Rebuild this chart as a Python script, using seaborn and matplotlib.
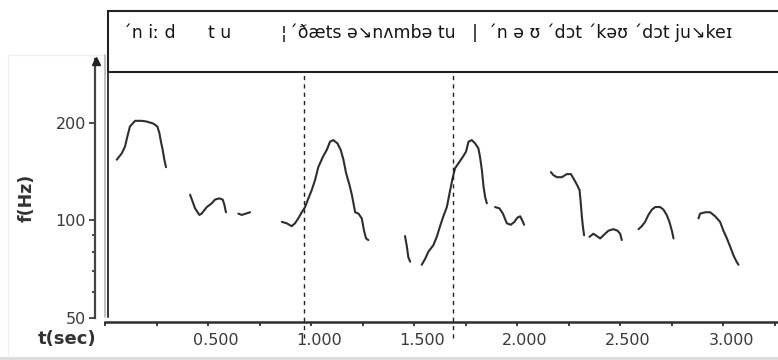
import matplotlib
matplotlib.use("Agg")
import matplotlib.pyplot as plt
import matplotlib.transforms as mtransforms
from matplotlib.lines import Line2D
from matplotlib.patches import Rectangle
from matplotlib.ticker import FixedLocator, NullFormatter
import numpy as np
import pandas as pd
import seaborn as sns

# ---- pitch contour (time in s, F0 in Hz), one array pair per voiced stretch ----
seg1_t = [0.057, 0.081, 0.097, 0.108, 0.121, 0.146, 0.178, 0.202, 0.235, 0.254, 0.264, 0.270, 0.280, 0.288, 0.296]
seg1_hz = [154, 161, 169, 181, 195, 203, 203, 202, 199, 195, 186, 177, 165, 154, 146]

seg2_t = [0.413, 0.426, 0.437, 0.458, 0.469, 0.494, 0.518, 0.534, 0.555, 0.571, 0.579, 0.587]
seg2_hz = [120, 114, 109, 104, 105, 110, 113, 116, 117, 116, 112, 106]

seg3_t = [0.647, 0.664, 0.684, 0.704]
seg3_hz = [105, 104, 105, 106]

seg4_t = [0.858, 0.882, 0.906, 0.922, 0.938, 0.955, 0.971, 0.987, 1.003, 1.019, 1.035, 1.057, 1.076, 1.092,
          1.108, 1.128, 1.144, 1.157, 1.170, 1.186, 1.198, 1.214, 1.230, 1.246, 1.257, 1.267, 1.278]
seg4_hz = [99, 98, 96, 98, 101.5, 106, 110, 117, 124, 133, 146, 157, 165, 175,
           177, 173, 165, 154, 140, 129, 120, 106, 105, 101.5, 93, 88, 87]

seg5_t = [1.456, 1.465, 1.472, 1.481]
seg5_hz = [89.5, 83, 77, 74.6]

seg6_t = [1.537, 1.553, 1.569, 1.594, 1.610, 1.626, 1.642, 1.659, 1.675, 1.688, 1.699, 1.715, 1.736, 1.752,
          1.764, 1.780, 1.796, 1.812, 1.820, 1.829, 1.837, 1.845, 1.853]
seg6_hz = [73, 76, 80, 84, 89, 96, 103, 110, 124, 136, 145, 150, 157, 163,
           175, 177, 173, 167, 157, 143, 127, 118, 113]

seg7_t = [1.893, 1.914, 1.931, 1.950, 1.969, 1.987, 2.001, 2.015, 2.028, 2.034]
seg7_hz = [110, 109, 105, 98, 97, 99, 102, 103, 99, 97]

seg8_t = [2.164, 2.176, 2.193, 2.217, 2.241, 2.261, 2.273, 2.290, 2.303, 2.309, 2.314, 2.319, 2.325]
seg8_hz = [141, 138, 136, 136, 139, 139, 135, 129, 124, 113, 103, 96, 90]

seg9_t = [2.351, 2.370, 2.387, 2.403, 2.419, 2.443, 2.467, 2.487, 2.500, 2.508]
seg9_hz = [89, 91, 89.5, 88, 90, 93, 94, 93, 91, 87]

seg10_t = [2.589, 2.605, 2.621, 2.637, 2.654, 2.670, 2.694, 2.710, 2.726, 2.739, 2.751, 2.759]
seg10_hz = [94, 96, 99, 104, 108, 110, 110, 108, 104, 99, 93, 88]

seg11_t = [2.880, 2.888, 2.913, 2.937, 2.961, 2.985, 3.001, 3.018, 3.034, 3.050, 3.063, 3.074]
seg11_hz = [101.5, 105, 106, 106, 103, 99, 93, 88, 83, 78, 75, 73]

# intonation-phrase boundaries (s)
boundaries = [0.967, 1.688]

# axis ticks
x_ticks = [0.25 * i for i in range(14)]
x_tick_labels = ["", "", "0.500", "", "1.000", "", "1.500", "", "2.000", "", "2.500", "", "3.000", ""]
y_ticks = [50, 100, 200]
y_tick_labels = ["50", "100", "200"]
y_minor_ticks = [60, 70, 80, 90]

# transcription tier
tier_texts = ["´n iː d", "t u", "¦", "´ðæts ə↘nʌmbə tu", "|", "´n ə ʊ ´dɔt ´kəʊ ´dɔt ju↘keɪ"]

segments = [(seg1_t, seg1_hz), (seg2_t, seg2_hz), (seg3_t, seg3_hz), (seg4_t, seg4_hz),
            (seg5_t, seg5_hz), (seg6_t, seg6_hz), (seg7_t, seg7_hz), (seg8_t, seg8_hz),
            (seg9_t, seg9_hz), (seg10_t, seg10_hz), (seg11_t, seg11_hz)]
df = pd.concat([pd.DataFrame({"t": t, "f0": f, "seg": k}) for k, (t, f) in enumerate(segments)],
               ignore_index=True)

sns.set_theme(style="white")
plt.rcParams["font.family"] = ["DejaVu Sans"]

W, H = 778, 360
fig = plt.figure(figsize=(W / 100, H / 100), dpi=100)
fig.patch.set_facecolor("white")


def fx(px):
    return px / W


def fy(py):
    return 1 - py / H


INK = "#2e2e2e"
TXT = "#3a3a3a"

# faint frame around the axis panel and window strip at the bottom
fig.add_artist(Line2D([fx(8), fx(8)], [fy(55), fy(357)], color="#f0f0f0", lw=1))
fig.add_artist(Line2D([fx(8), fx(104)], [fy(55), fy(55)], color="#f0f0f0", lw=1))
fig.add_artist(Rectangle((0, 0), 1, 3.5 / H, transform=fig.transFigure, color="#dcdcdc", lw=0))

# main plotting area
ax = fig.add_axes([fx(105), fy(322), fx(778) - fx(105), fy(57) - fy(322)])
ax.set_facecolor("none")
ax.set_yscale("log")

sns.lineplot(data=df, x="t", y="f0", units="seg", estimator=None, sort=False,
             color=INK, lw=1.5, ax=ax)

ax.set_xlim(0, 3.266)
ax.set_ylim(48.6, 319.5)
ax.set_xlabel("")
ax.set_ylabel("")

for s in ("top", "right"):
    ax.spines[s].set_visible(False)
ax.spines["bottom"].set_color(INK)
ax.spines["bottom"].set_linewidth(1.8)
ax.spines["left"].set_color("#444444")
ax.spines["left"].set_linewidth(1.6)
ax.spines["left"].set_position(("outward", 7.2))
ax.spines["left"].set_bounds(50, 316)

ax.xaxis.set_major_locator(FixedLocator(x_ticks))
ax.set_xticklabels(x_tick_labels)
ax.yaxis.set_major_locator(FixedLocator(y_ticks))
ax.set_yticklabels(y_tick_labels)
ax.yaxis.set_minor_locator(FixedLocator(y_minor_ticks))
ax.yaxis.set_minor_formatter(NullFormatter())

ax.tick_params(axis="x", which="major", direction="out", length=3, width=1.3, color=INK,
               labelsize=11.5, labelcolor=TXT, pad=5, bottom=True)
ax.tick_params(axis="y", which="major", direction="out", length=4.5, width=1.2, color=INK,
               labelsize=11.5, labelcolor=TXT, pad=2, left=True)
ax.tick_params(axis="y", which="minor", direction="out", length=2.5, width=1.2, color=INK, left=True)

shift = mtransforms.ScaledTranslation(8 / 100, 0, fig.dpi_scale_trans)
for lbl in ax.get_xticklabels():
    lbl.set_transform(lbl.get_transform() + shift)

# phrase boundaries
for b in boundaries:
    ax.axvline(b, ymin=(322 - 338) / 265, ymax=(322 - 72) / 265, color="#222222", lw=1.0,
               ls=(0, (3, 3)), clip_on=False)

# arrow head on the frequency axis
fig.add_artist(Line2D([fx(95.5)], [fy(61)], marker="^", markersize=5.5, color="#222222", lw=0))

# double left border of the plot area
fig.add_artist(Line2D([fx(104.5), fx(104.5)], [fy(55), fy(317)], color="#b5b5b5", lw=1.2))
fig.add_artist(Line2D([fx(108), fx(108)], [fy(72), fy(317)], color="#333333", lw=1.4))

# transcription tier box
fig.add_artist(Rectangle((fx(108), fy(72)), fx(790) - fx(108), fy(11) - fy(72),
                         transform=fig.transFigure, facecolor="white", edgecolor="#222222", lw=1.5))
tier_x = [123, 208, 281, 289, 472, 488]
for txt, px in zip(tier_texts, tier_x):
    fig.text(fx(px), fy(38.5), txt, fontsize=12.5, color="#151515", ha="left", va="baseline")

# axis titles
fig.text(fx(27), fy(198), "f(Hz)", rotation=90, fontsize=12.5, fontweight="bold",
         color="#333333", ha="center", va="center")
fig.text(fx(67), fy(339), "t(sec)", fontsize=13, fontweight="bold",
         color="#333333", ha="center", va="center")

fig.savefig("out.png", dpi=100)
